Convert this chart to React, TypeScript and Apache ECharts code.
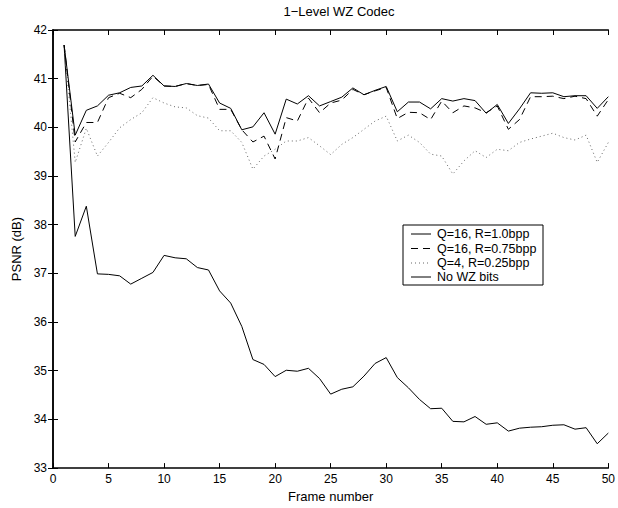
import React, { useEffect, useRef } from "react";
import * as echarts from "echarts";

const frames = Array.from({ length: 50 }, (_, i) => i + 1);

const seriesNames = ["Q=16, R=1.0bpp", "Q=16, R=0.75bpp", "Q=4, R=0.25bpp", "No WZ bits"];

const q16r100 = [
  41.69, 39.84, 40.35, 40.44, 40.66, 40.71, 40.82, 40.85, 41.07, 40.85,
  40.84, 40.9, 40.86, 40.89, 40.5, 40.39, 39.95, 40.01, 40.3, 39.86,
  40.58, 40.48, 40.65, 40.44, 40.53, 40.62, 40.81, 40.67, 40.76, 40.84,
  40.32, 40.52, 40.52, 40.38, 40.59, 40.54, 40.59, 40.55, 40.29, 40.47,
  40.08, 40.38, 40.71, 40.7, 40.71, 40.63, 40.65, 40.65, 40.39, 40.63,
];

const q16r075 = [
  41.69, 39.7, 40.1, 40.1, 40.61, 40.7, 40.61, 40.78, 41.05, 40.85,
  40.84, 40.9, 40.86, 40.88, 40.37, 40.37, 39.95, 39.7, 39.82, 39.35,
  40.2, 40.13, 40.6, 40.3, 40.5, 40.56, 40.78, 40.67, 40.75, 40.82,
  40.18, 40.31, 40.3, 40.16, 40.54, 40.3, 40.44, 40.4, 40.3, 40.44,
  39.96, 40.16, 40.63, 40.63, 40.64, 40.59, 40.64, 40.59, 40.23, 40.57,
];

const q4r025 = [
  41.69, 39.28, 39.98, 39.41, 39.69, 39.99, 40.16, 40.3, 40.61, 40.5,
  40.42, 40.4, 40.24, 40.19, 39.93, 39.93, 39.69, 39.14, 39.41, 39.55,
  39.72, 39.72, 39.79, 39.62, 39.44, 39.65, 39.79, 39.96, 40.13, 40.23,
  39.72, 39.84, 39.69, 39.45, 39.41, 39.04, 39.31, 39.52, 39.38, 39.55,
  39.52, 39.69, 39.76, 39.82, 39.88, 39.79, 39.74, 39.84, 39.28, 39.69,
];

const noWZ = [
  41.69, 37.76, 38.38, 36.99, 36.98, 36.95, 36.78, 36.9, 37.02, 37.37,
  37.32, 37.3, 37.12, 37.07, 36.64, 36.39, 35.91, 35.23, 35.13, 34.88,
  35.01, 34.99, 35.05, 34.84, 34.52, 34.62, 34.67, 34.89, 35.15, 35.27,
  34.86, 34.65, 34.41, 34.22, 34.23, 33.96, 33.95, 34.06, 33.9, 33.93,
  33.76, 33.82, 33.84, 33.85, 33.88, 33.89, 33.8, 33.83, 33.5, 33.72,
];

const xTicks = { min: 0, max: 50, interval: 5 };
const yTicks = { min: 33, max: 42, interval: 1 };

const FONT = "Liberation Sans, Arial, Helvetica, sans-serif";

export default function App() {
  const ref = useRef<HTMLDivElement>(null);
  useEffect(() => {
    if (!ref.current) return;
    const chart = echarts.init(ref.current, undefined, { renderer: "svg" });
    const toPairs = (vals: number[]) => frames.map((f, i) => [f, vals[i]]);
    const lineStyles: any[] = [
      { color: "#000", width: 1, type: "solid" },
      { color: "#000", width: 1, type: [7, 5] },
      { color: "#666", width: 1, type: [1, 3] },
      { color: "#000", width: 1, type: "solid" },
    ];
    const dashArrays: any[] = [null, [7, 5], [1, 3], null];
    const all = [q16r100, q16r075, q4r025, noWZ];
    const axisLine = { show: true, lineStyle: { color: "#000", width: 1.5 } };
    const tick = { show: true, inside: true, length: 5, lineStyle: { color: "#000", width: 1 } };

    const lgLeft = 403;
    const lgTop = 225;
    const rowY = [234, 248.5, 263, 277];
    const legendChildren: any[] = [
      {
        type: "rect",
        shape: { x: lgLeft, y: lgTop, width: 140, height: 60 },
        style: { fill: "#fff", stroke: "#000", lineWidth: 1 },
        z: 10,
      },
    ];
    seriesNames.forEach((name, i) => {
      legendChildren.push({
        type: "line",
        shape: { x1: 411, y1: rowY[i], x2: 431, y2: rowY[i] },
        style: {
          stroke: lineStyles[i].color,
          lineWidth: 1,
          lineDash: dashArrays[i],
        },
        z: 11,
      });
      legendChildren.push({
        type: "text",
        x: 437,
        y: rowY[i],
        style: {
          text: name,
          fill: "#000",
          font: `12.5px ${FONT}`,
          textVerticalAlign: "middle",
          verticalAlign: "middle",
        },
        z: 11,
      });
    });

    chart.setOption({
      animation: false,
      backgroundColor: "#fff",
      textStyle: { fontFamily: FONT },
      title: {
        text: "1\u2212Level WZ Codec",
        left: 334,
        top: 0,
        textAlign: "center",
        textStyle: { fontSize: 13, fontWeight: "normal", color: "#000", fontFamily: FONT },
      },
      graphic: legendChildren,
      grid: { left: 53, right: 6, top: 30, bottom: 37 },
      xAxis: [
        {
          type: "value",
          ...xTicks,
          name: "Frame number",
          nameLocation: "middle",
          nameGap: 21,
          nameTextStyle: { fontSize: 13, color: "#000", fontFamily: FONT },
          axisLine,
          axisTick: tick,
          axisLabel: { fontSize: 12, color: "#000", margin: 5, fontFamily: FONT },
          splitLine: { show: false },
        },
        {
          type: "value",
          ...xTicks,
          position: "top",
          axisLine,
          axisTick: tick,
          axisLabel: { show: false },
          splitLine: { show: false },
        },
      ],
      yAxis: [
        {
          type: "value",
          ...yTicks,
          name: "PSNR (dB)",
          nameLocation: "middle",
          nameGap: 27,
          nameTextStyle: { fontSize: 13, color: "#000", fontFamily: FONT },
          axisLine,
          axisTick: tick,
          axisLabel: { fontSize: 12, color: "#000", margin: 6, fontFamily: FONT },
          splitLine: { show: false },
        },
        {
          type: "value",
          ...yTicks,
          position: "right",
          axisLine,
          axisTick: tick,
          axisLabel: { show: false },
          splitLine: { show: false },
        },
      ],
      series: all.map((vals, i) => ({
        name: seriesNames[i],
        type: "line",
        data: toPairs(vals),
        symbol: "none",
        showSymbol: false,
        lineStyle: lineStyles[i],
        itemStyle: { color: lineStyles[i].color },
        z: 4 - i,
      })),
    });
    return () => chart.dispose();
  }, []);
  return (
    <div
      ref={ref}
      style={{ position: "fixed", left: 0, top: 0, width: 618, height: 508 }}
    />
  );
}
